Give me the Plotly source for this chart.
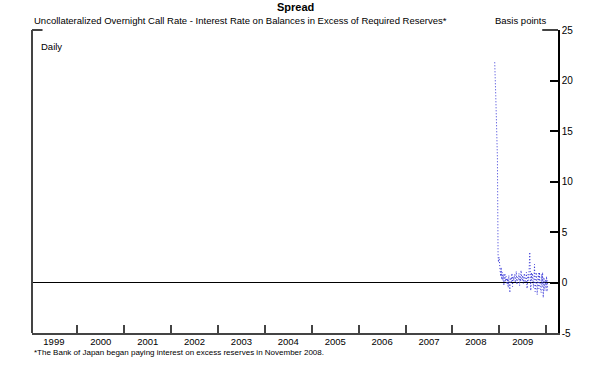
import pandas as pd
import plotly.graph_objects as go

# Spread in basis points, sampled every 3 business days from 2008-11-26
start_date = "2008-11-26"
spread_bp = [
    21.8, 20.6, 18.5, 16.2, 14.0, 12.3, 2.8, 2.0, 2.5,
    2.2, 1.2, 0.6, 1.5, 0.3, 1.0, 0.2,
    # Feb 2009
    0.8, -0.3, 0.5, 0.9, 0.1, 0.6, 0.2,
    # Mar
    -0.2, 0.4, -0.5, 0.7, 0.3, -1.0, 0.1,
    # Apr
    0.5, 0.1, 0.9, -0.4, 0.6, 0.2, 0.7,
    # May
    0.8, 0.0, 0.4, 1.1, -0.2, 0.5, 0.3,
    # Jun
    0.3, 0.9, -0.3, 0.6, 0.1, 1.2, 0.4,
    # Jul
    0.2, 0.7, -0.1, 0.5, 0.9, 0.0, 0.6,
    # Aug
    0.6, 1.0, -0.6, 0.4, 0.8, 0.2, 1.1,
    # Sep
    3.0, 0.5, -0.8, 1.0, 0.2, 0.9, -0.4,
    # Oct
    -0.5, 0.8, 1.8, -0.9, 0.6, 1.0, -0.2,
    # Nov
    -1.2, 0.4, 0.9, -0.6, 1.0, 0.2, -0.7,
    # Dec
    -1.0, 0.8, -0.3, 1.0, -1.5, 0.5, -0.6,
    # Jan 2010
    -0.8, 0.3, -0.4, 0.6, -0.9, 0.2,
]
dates = pd.bdate_range(start=start_date, periods=len(spread_bp) * 3)[::3]

y_ticks = [-5, 0, 5, 10, 15, 20, 25]
y_tick_labels = ["-5", "0", "5", "10", "15", "20", "25"]
x_range = ["1999-01-13", "2010-04-03"]
y_range = [-5, 25]

title = "<b>Spread</b>"
subtitle = "Uncollateralized Overnight Call Rate - Interest Rate on Balances in Excess of Required Reserves*"
units = "Basis points"
freq_label = "Daily"
footnote = "*The Bank of Japan began paying interest on excess reserves in November 2008."

FONT = "Liberation Sans, Arial, sans-serif"

fig = go.Figure()
fig.add_trace(go.Scatter(
    x=dates, y=spread_bp, mode="lines",
    line=dict(color="#3535d8", width=1, dash="1px,2px"),
    showlegend=False, hoverinfo="skip",
))

fig.update_layout(
    width=600, height=374,
    margin=dict(l=32, r=42, t=30, b=41),
    paper_bgcolor="white", plot_bgcolor="white",
    font=dict(family=FONT, size=10, color="black"),
    xaxis=dict(
        type="date", range=x_range,
        tick0="1999-01-01", dtick="M12", tickformat="%Y",
        ticklabelmode="period", ticklabelstandoff=-1,
        ticks="inside", ticklen=8, tickwidth=1.5, tickcolor="#444",
        showline=True, linecolor="#444", linewidth=2,
        showgrid=False, zeroline=False,
        tickfont=dict(size=9.5),
    ),
    yaxis=dict(
        side="right", range=y_range, tickvals=y_ticks, ticktext=y_tick_labels,
        ticks="inside", ticklen=8, tickwidth=1.5, tickcolor="black",
        showline=True, linecolor="black", linewidth=1.5,
        showgrid=False, zeroline=True, zerolinecolor="black", zerolinewidth=1,
        tickfont=dict(size=10),
    ),
)

# left frame line and top corner marks
fig.add_shape(type="line", xref="paper", yref="paper", x0=0, x1=0, y0=0, y1=1,
              line=dict(color="#444", width=2))
fig.add_shape(type="line", xref="paper", yref="paper", x0=0, x1=0.02, y0=1, y1=1,
              line=dict(color="#444", width=2))
fig.add_shape(type="line", xref="paper", yref="paper", x0=0.97, x1=1, y0=1, y1=1,
              line=dict(color="#444", width=2))

fig.add_annotation(text=title, xref="paper", yref="paper", x=0.5, y=1,
                   xanchor="center", yanchor="bottom", yshift=15, showarrow=False,
                   font=dict(size=11))
fig.add_annotation(text=subtitle, xref="paper", yref="paper", x=0, y=1,
                   xanchor="left", yanchor="bottom", yshift=2, showarrow=False,
                   font=dict(size=9.5))
fig.add_annotation(text=units, xref="paper", yref="paper", x=0.981, y=1,
                   xanchor="right", yanchor="bottom", yshift=2, showarrow=False,
                   font=dict(size=9.5))
fig.add_annotation(text=freq_label, xref="paper", yref="paper", x=0.013, y=0.97,
                   xanchor="left", yanchor="top", showarrow=False,
                   font=dict(size=9.5))
fig.add_annotation(text=footnote, xref="paper", yref="paper", x=0, y=0,
                   xanchor="left", yanchor="top", yshift=-13, showarrow=False,
                   font=dict(size=8))

fig.write_html("out.html", config={"displayModeBar": False},
               post_script="document.body.style.margin='0';")
